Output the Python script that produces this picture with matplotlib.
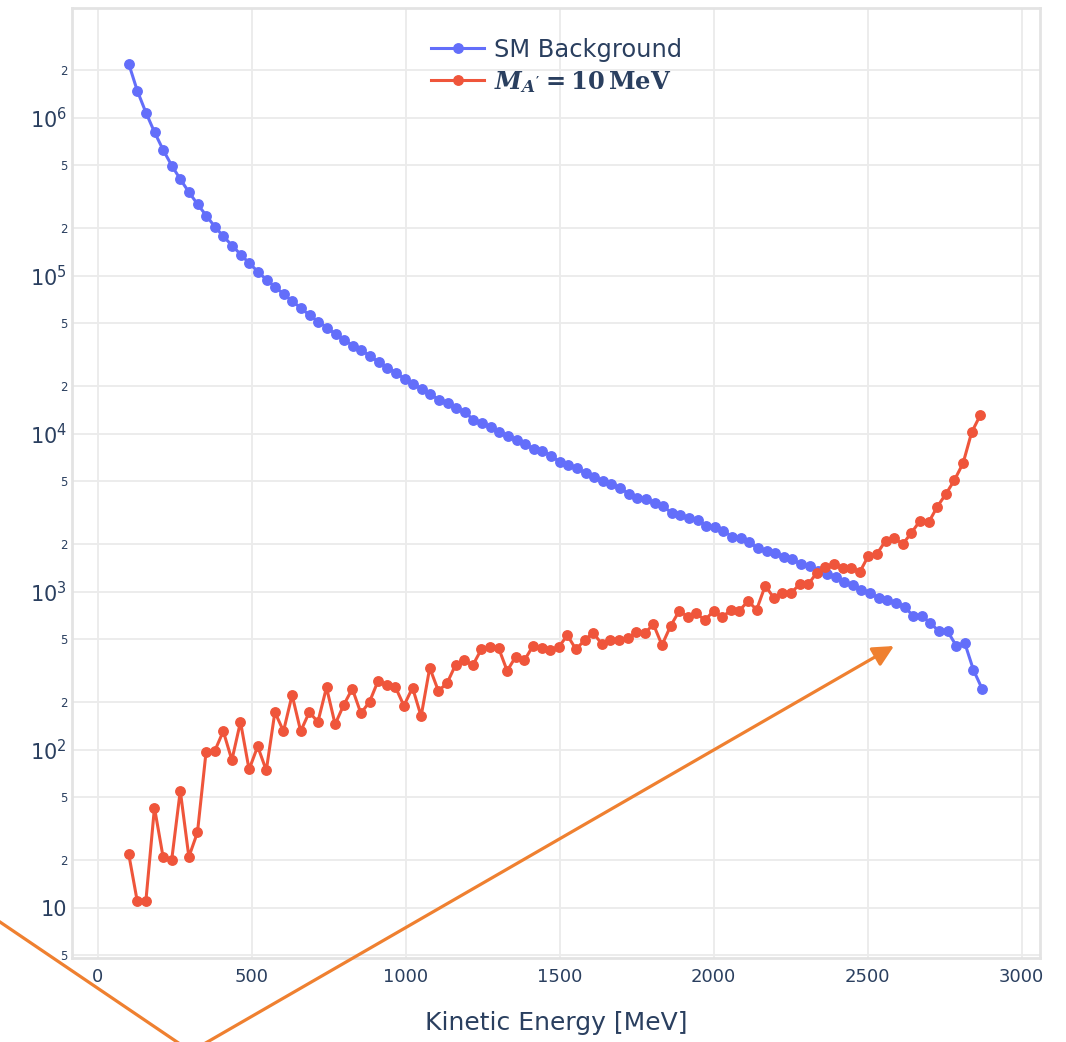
import numpy as np
import matplotlib
matplotlib.use("Agg")
import matplotlib.pyplot as plt
from matplotlib.lines import Line2D
from matplotlib.transforms import IdentityTransform

# ---------------- data ----------------
bg_x = np.linspace(100, 2872, 100)
sig_x = np.linspace(100, 2866, 100)

bg_counts = [2.2e6, 1.48e6, 1.077e6, 8.09e5, 6.25e5, 4.97e5, 4.07e5, 3.37e5, 2.83e5, 2.40e5,
             2.04e5, 1.77e5, 1.55e5, 1.36e5, 1.197e5, 1.06e5, 9.39e4, 8.48e4, 7.62e4, 6.88e4,
             6.22e4, 5.61e4, 5.12e4, 4.69e4, 4.26e4, 3.92e4, 3.61e4, 3.39e4, 3.09e4, 2.85e4,
             2.62e4, 2.43e4, 2.22e4, 2.05e4, 1.92e4, 1.77e4, 1.64e4, 1.56e4, 1.45e4, 1.365e4,
             1.227e4, 1.17e4, 1.10e4, 1.03e4, 9710, 9080, 8570, 8000, 7780, 7260,
             6620, 6340, 6090, 5610, 5340, 5020, 4830, 4530, 4170, 3900,
             3860, 3620, 3500, 3130, 3040, 2920, 2840, 2610, 2570, 2420,
             2230, 2190, 2060, 1880, 1820, 1750, 1670, 1600, 1490, 1460,
             1350, 1290, 1245, 1157, 1100, 1030, 986, 908, 882, 852,
             800, 705, 705, 634, 561, 561, 455, 471, 319, 243]

sig_counts = [22, 11, 11, 43, 21, 20, 55, 21, 30, 97,
              98, 131, 86, 150, 75, 105, 74, 173, 131, 222,
              131, 173, 150, 248, 145, 192, 243, 170, 201, 273,
              257, 250, 190, 247, 163, 330, 236, 263, 344, 370,
              342, 432, 449, 441, 316, 388, 368, 453, 438, 428,
              447, 530, 432, 493, 550, 467, 493, 495, 507, 553,
              546, 622, 460, 607, 755, 695, 730, 659, 759, 689,
              766, 759, 873, 769, 1091, 916, 977, 982, 1114, 1114,
              1320, 1433, 1490, 1419, 1419, 1334, 1690, 1741, 2104, 2179,
              2004, 2362, 2812, 2748, 3450, 4150, 5090, 6500, 10200, 13100]

x_ticks = [0, 500, 1000, 1500, 2000, 2500, 3000]
decades = [10, 100, 1000, 10000, 100000, 1000000]

# ---------------- style ----------------
plt.rcParams['font.family'] = ['DejaVu Sans']
# math font only used by the legend label (bold serif like MathJax)
plt.rcParams['mathtext.fontset'] = 'custom'
plt.rcParams['mathtext.rm'] = 'DejaVu Serif:bold'
plt.rcParams['mathtext.it'] = 'DejaVu Serif:italic:bold'
plt.rcParams['mathtext.bf'] = 'DejaVu Serif:bold'

txt = '#2a3f5f'
grid = '#ebebeb'
blue = '#636efa'
red = '#ef553b'
orange = '#ef8030'

fig = plt.figure(figsize=(10.66, 10.42), dpi=100)
ax = fig.add_axes([72/1066, 1 - 958/1042, (1040-72)/1066, (958-8)/1042])

ax.plot(bg_x, bg_counts, '-o', color=blue, lw=2.2, ms=6.8, label='SM Background', zorder=3)
ax.plot(sig_x, sig_counts, '-o', color=red, lw=2.2, ms=6.8,
        label=r"$M_{A'} = 10\,\mathrm{MeV}$", zorder=4)

ax.set_yscale('log')
ax.set_xlim(-84, 3060)
ax.set_ylim(4.81, 4.94e6)

# y ticks: decades plus 2 and 5 in between
yt, yl = [5], ['5']
for d in decades:
    yt += [d, 2*d, 5*d]
    yl += ['10' if d == 10 else r'$\mathregular{10^{%d}}$' % int(np.log10(d)), '2', '5']
keep = [(t, l) for t, l in zip(yt, yl) if t < 4.9e6]
ax.set_yticks([t for t, _ in keep])
ax.set_yticklabels([l for _, l in keep])
ax.yaxis.set_minor_locator(plt.NullLocator())
for lab, (t, _) in zip(ax.get_yticklabels(), keep):
    major = t in decades
    lab.set_fontsize(15 if major else 8.5)
    lab.set_color(txt)

ax.set_xticks(x_ticks)
ax.set_xticklabels([str(v) for v in x_ticks], fontsize=13, color=txt)
ax.tick_params(axis='both', length=0, pad=7)
ax.tick_params(axis='y', pad=3.5)

ax.grid(True, color=grid, lw=1.3, zorder=0)
ax.set_axisbelow(True)
for s in ax.spines.values():
    s.set_color('#e3e3e3')
    s.set_linewidth(2)

ax.set_xlabel('Kinetic Energy [MeV]', fontsize=18, color=txt, labelpad=18)

leg = ax.legend(loc='upper left', bbox_to_anchor=(0.361, 0.979), frameon=False,
                fontsize=17.4, handlelength=2.2, handletextpad=0.4, labelspacing=0.3,
                borderaxespad=0)
for t in leg.get_texts():
    t.set_color(txt)

# orange arrow annotation (runs off the bottom of the figure)
ax.annotate('', xy=(894, 1042-646), xytext=(190, -10), xycoords='figure pixels',
            textcoords='figure pixels', annotation_clip=False,
            arrowprops=dict(arrowstyle='-|>,head_length=0.9,head_width=0.45', color=orange,
                            lw=2.3, shrinkA=0, shrinkB=0, mutation_scale=14))
fig.add_artist(Line2D([0, 180], [1042-922, -2], color=orange, lw=2.3,
                      transform=IdentityTransform()))

fig.savefig('out.png', dpi=100, facecolor='white')
